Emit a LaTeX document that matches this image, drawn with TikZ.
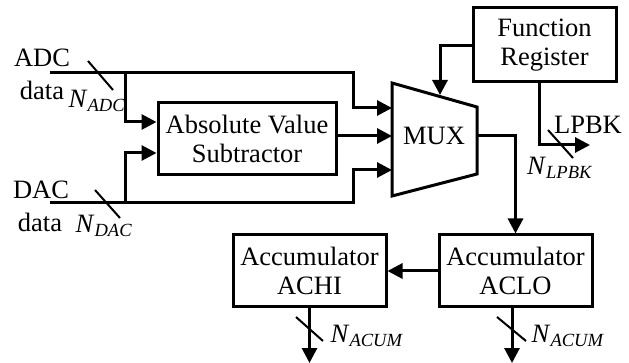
\documentclass[tikz,border=0pt]{standalone}
\usepackage{fontspec}
\setmainfont{Liberation Serif}
\usetikzlibrary{arrows.meta}

\newcommand{\nsub}[1]{\textit{N}\textsubscript{\textit{#1}}}

\tikzset{
  blk/.style={draw,line width=3pt,align=center,inner sep=0pt},
  wire/.style={line width=3pt},
  arr/.style={wire,-{Triangle[length=15pt,width=15pt]}},
  slash/.style={line width=2pt},
  lbl/.style={inner sep=0pt}
}

\begin{document}
\begin{tikzpicture}[x=1pt,y=-1pt,font=\fontsize{26.5}{29}\selectfont]
		\useasboundingbox (0,0) rectangle (629,363);
		% blocks
		\node[blk,minimum width=178pt,minimum height=72pt] (abs) at (247,139) {Absolute Value\\Subtractor};
		\node[blk,minimum width=143pt,minimum height=74pt] (freg) at (544.5,45) {Function\\Register};
		\node[blk,minimum width=153pt,minimum height=72pt] (aclo) at (515.5,271) {Accumulator\\ACLO};
		\node[blk,minimum width=153pt,minimum height=72pt] (achi) at (309.5,271) {Accumulator\\ACHI};
		% mux
		\coordinate (m1) at (392,83);
		\coordinate (m2) at (477,107);
		\coordinate (m3) at (477,174);
		\coordinate (m4) at (392,196);
		\draw[wire,line join=miter] (m1) -- (m2) -- (m3) -- (m4) -- cycle;
		\node (mux) at (434,136) {MUX};
		\coordinate (mi1) at (392,108);
		\coordinate (mi2) at (392,136);
		\coordinate (mi3) at (392,170);
		\coordinate (mo) at (477,136);
		\coordinate (msel) at (440,95);
		% inputs
		\coordinate (adc) at (50,73);
		\coordinate (dac) at (50,203);
		\node[lbl] (adct) at (42,58) {ADC};
		\node[lbl] (adcd) at (42,90) {data};
		\node[lbl] (dact) at (41,190) {DAC};
		\node[lbl] (dacd) at (40,222) {data};
		\node[lbl] (nadc) at (97,101) {\nsub{ADC}};
		\node[lbl] (ndac) at (104,226) {\nsub{DAC}};
		\draw[arr] (adc) -| (353,108) -- (mi1);
		\draw[arr] (dac) -| (353,170) -- (mi3);
		\draw[arr] (125,73) |- (abs.west |- 0,122);
		\draw[arr] (125,203) |- (abs.west |- 0,153);
		\draw[arr] (abs.east |- mi2) -- (mi2);
		\draw[slash] (88,61) -- (113,90);
		\draw[slash] (95,190) -- (120,218);
		% function register
		\draw[arr] (freg.west |- 0,46) -| (msel);
		\draw[arr] (freg.south -| 539,0) |- (590,145);
		\node[lbl] (lpbk) at (588,125) {LPBK};
		\node[lbl] (nlpbk) at (560,168) {\nsub{LPBK}};
		\draw[slash] (548,130) -- (573,158);
		% accumulators
		\draw[arr] (mo) -| (aclo.north);
		\draw[arr] (aclo.west) -- (achi.east);
		\draw[arr] (achi.south) -- (309.5,363);
		\draw[arr] (aclo.south -| 512,0) -- (512,363);
		\draw[slash] (296,317) -- (323,341);
		\draw[slash] (497,317) -- (526,341);
		\node[lbl] (nacum1) at (367,336) {\nsub{ACUM}};
		\node[lbl] (nacum2) at (568,336) {\nsub{ACUM}};
	\end{tikzpicture}
\end{document}
